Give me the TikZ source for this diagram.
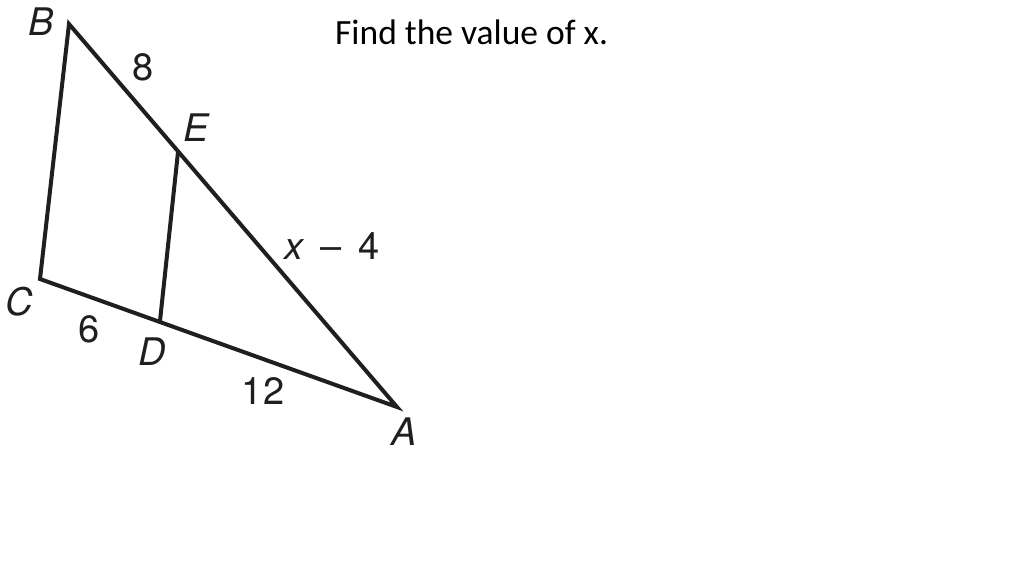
\documentclass[tikz,border=0pt]{standalone}
\usepackage{fontspec}
\setmainfont{TeX Gyre Heros}
\newfontfamily\calib{Carlito}
\begin{document}
\begin{tikzpicture}[x=1pt,y=-1pt,
  seg/.style={line width=4pt,draw=black!88,line join=miter,line cap=butt},
  lab/.style={font=\fontsize{38}{40}\selectfont,text=black!88,inner sep=0pt,anchor=center}]
\useasboundingbox[fill=white] (0,0) rectangle (1023,576);
\coordinate (B) at (69,24);
\coordinate (C) at (40,279);
\coordinate (A) at (397,407);
\coordinate (E) at (178,152);
\coordinate (D) at (160,321);
\draw[seg] (A) -- (B) -- (C) -- cycle;
\draw[seg] (E) -- (D);
\node[lab] (lB) at (41,22) {\itshape B};
\node[lab] (l8) at (143,67) {8};
\node[lab] (lE) at (196,128) {\itshape E};
\node[lab] (lC) at (19,302) {\itshape C};
\node[lab] (l6) at (89,329) {6};
\node[lab] (lD) at (152,352) {\itshape D};
\node[lab] (lx) at (332,246) {\itshape x\upshape\ \,--\ \,4};
\node[lab] (l12) at (263,391) {12};
\node[lab] (lA) at (404,432) {\itshape A};
\node[inner sep=0pt,anchor=base west,font=\calib\fontsize{35.5}{38}\selectfont] (q) at (335,44) {Find the value of x.};
\end{tikzpicture}
\end{document}
